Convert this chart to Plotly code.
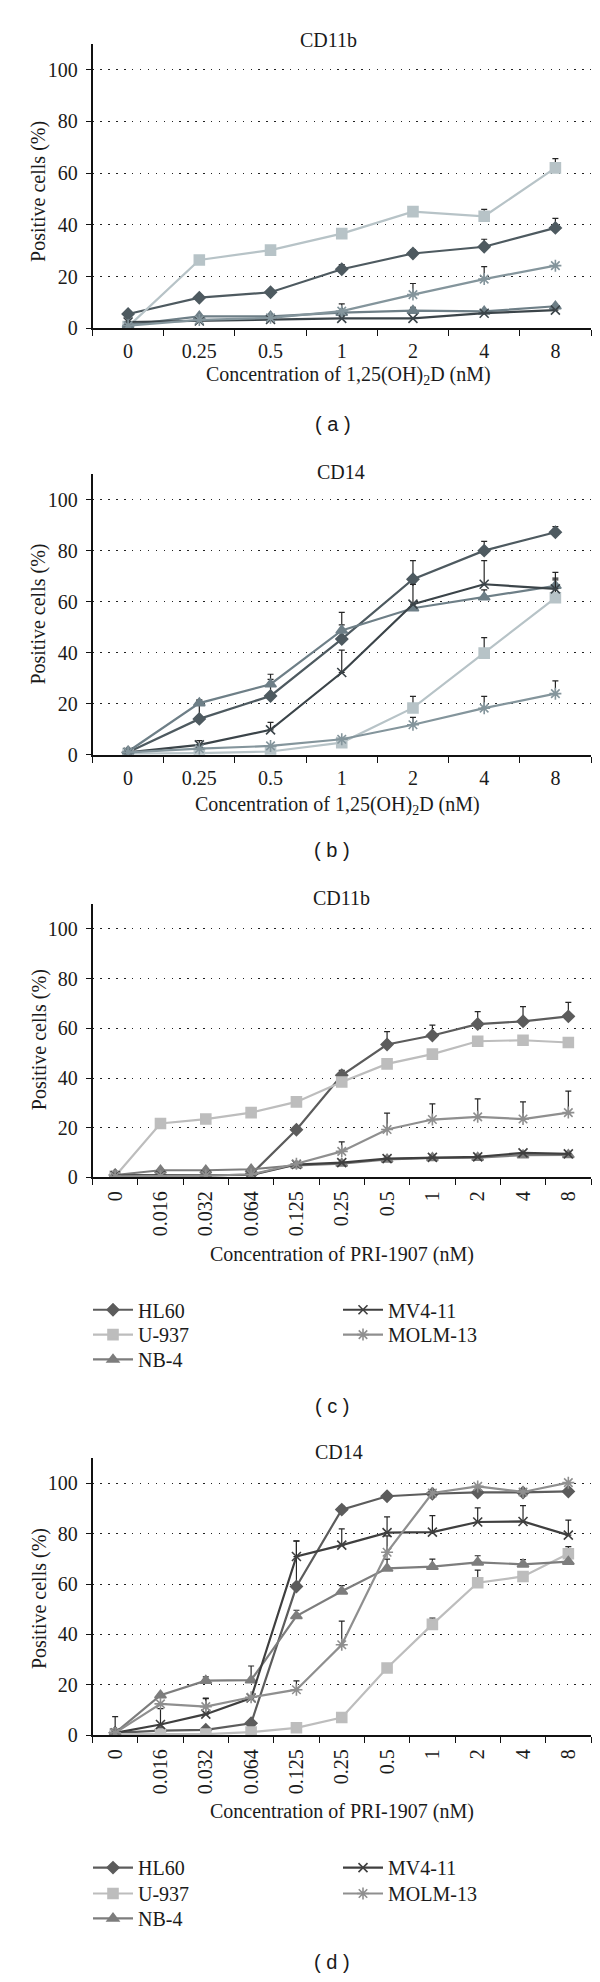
import plotly.graph_objects as go

# concentrations (category axes)
conc_vd = ["0", "0.25", "0.5", "1", "2", "4", "8"]
conc_pri = ["0", "0.016", "0.032", "0.064", "0.125", "0.25", "0.5", "1", "2", "4", "8"]

cell_lines = ["HL60", "U-937", "NB-4", "MV4-11", "MOLM-13"]

# (a) CD11b, 1,25(OH)2D
a_hl60 = [5.5, 11.8, 13.9, 22.8, 28.9, 31.5, 38.8]
a_hl60_err = [None, None, None, 1.8, 1.5, 2.9, 3.7]
a_u937 = [0.6, 26.4, 30.2, 36.6, 45.1, 43.3, 62.0]
a_u937_err = [None, None, None, None, None, 2.7, 3.6]
a_nb4 = [1.3, 4.6, 4.6, 6.0, 6.8, 6.5, 8.5]
a_nb4_err = [None, None, None, None, 1.3, None, None]
a_mv411 = [2.4, 2.8, 3.4, 3.8, 3.8, 5.8, 7.0]
a_mv411_err = [None] * 7
a_molm13 = [1.0, 3.2, 4.0, 6.6, 13.0, 19.0, 24.2]
a_molm13_err = [None, None, None, 2.8, 4.3, 4.8, None]

# (b) CD14, 1,25(OH)2D
b_hl60 = [1.0, 14.1, 23.1, 45.4, 68.9, 80.1, 87.3]
b_hl60_err = [None, 7.5, 6.5, 10.5, 7.3, 3.6, 2.2]
b_u937 = [0.5, 0.7, 1.3, 4.8, 18.4, 39.9, 61.6]
b_u937_err = [None, None, None, None, 4.5, 6.1, 7.0]
b_nb4 = [1.3, 20.3, 27.7, 48.8, 57.5, 61.8, 66.3]
b_nb4_err = [None, 1.0, 3.9, 2.2, None, 2.9, 3.0]
b_mv411 = [1.0, 3.9, 9.8, 32.3, 59.1, 66.9, 65.1]
b_mv411_err = [None, 1.7, 2.9, 8.8, 7.8, 9.3, 6.5]
b_molm13 = [1.0, 2.4, 3.5, 6.1, 11.8, 18.3, 24.0]
b_molm13_err = [None, None, None, None, 2.9, 4.6, 5.0]

# (c) CD11b, PRI-1907
c_hl60 = [1.0, 0.8, 0.8, 1.2, 19.2, 41.1, 53.5, 57.1, 61.7, 62.8, 64.8]
c_hl60_err = [None, None, None, None, None, 2.0, 5.2, 4.2, 5.0, 5.9, 5.6]
c_u937 = [0.5, 21.7, 23.5, 26.1, 30.4, 38.4, 45.7, 49.6, 54.8, 55.2, 54.3]
c_u937_err = [None] * 11
c_nb4 = [1.0, 2.9, 2.9, 3.3, 4.9, 5.6, 7.3, 7.9, 8.0, 9.0, 9.1]
c_nb4_err = [None, None, None, None, 1.5, None, None, None, None, None, None]
c_mv411 = [0.8, 0.8, 1.0, 1.0, 5.2, 6.0, 7.6, 8.1, 8.3, 9.9, 9.5]
c_mv411_err = [None] * 11
c_molm13 = [0.5, 0.5, 0.8, 1.2, 5.5, 10.5, 19.3, 23.3, 24.4, 23.5, 26.1]
c_molm13_err = [None, None, None, None, None, 3.8, 6.6, 6.3, 7.2, 6.9, 8.6]

# (d) CD14, PRI-1907
d_hl60 = [1.0, 1.9, 2.2, 4.8, 59.0, 89.5, 94.8, 95.8, 96.3, 96.3, 96.7]
d_hl60_err = [None, None, None, None, 18.0, 1.3, None, None, None, None, None]
d_u937 = [0.5, 0.5, 0.5, 1.3, 3.0, 7.1, 26.7, 44.0, 60.5, 63.0, 72.0]
d_u937_err = [None, None, None, None, None, None, None, 2.5, 5.0, None, 2.8]
d_nb4 = [1.0, 15.9, 21.7, 21.9, 47.3, 57.1, 66.2, 66.9, 68.6, 67.8, 68.9]
d_nb4_err = [None, None, 1.5, 5.6, 2.3, 2.3, 3.7, 3.0, 2.6, 1.9, None]
d_mv411 = [1.0, 4.3, 8.4, 14.8, 70.9, 75.4, 80.4, 80.6, 84.6, 84.8, 79.4]
d_mv411_err = [None, 6.3, 6.2, None, 6.2, 6.5, 6.2, 6.5, 5.6, 6.3, 5.9]
d_molm13 = [1.0, 12.5, 11.4, 15.1, 18.1, 35.9, 72.6, 96.1, 98.7, 96.5, 100.2]
d_molm13_err = [6.4, None, 3.4, None, 3.5, 9.4, 6.5, None, None, None, None]

colors_vd = ["#4e5a60", "#b7c3c7", "#6e7f87", "#3b4449", "#84959c"]
colors_pri = ["#5c5c5c", "#bdbdbd", "#7d7d7d", "#3f3f3f", "#8f8f8f"]
symbols = ["diamond", "square", "triangle-up", "x-thin-open", "asterisk-open"]
sizes = [9, 10, 10, 9, 10]

W, H = 600, 1982
SERIF = "Liberation Serif, Times New Roman, Times, serif"


def px_x(v):
    return v / W


def px_y(v):
    return 1 - v / H


# legend entry spots (px): column x, row y for panels (c) and (d)
leg_cols = [80, 80, 80, 330, 330]
leg_rows_c = [1309, 1334, 1359, 1309, 1334]
leg_rows_d = [1870, 1896, 1921, 1870, 1896]

panels = [
    # values, errors, categories, colors, top px, bottom px, legend rows
    ([a_hl60, a_u937, a_nb4, a_mv411, a_molm13],
     [a_hl60_err, a_u937_err, a_nb4_err, a_mv411_err, a_molm13_err],
     conc_vd, colors_vd, 36, 322, None),
    ([b_hl60, b_u937, b_nb4, b_mv411, b_molm13],
     [b_hl60_err, b_u937_err, b_nb4_err, b_mv411_err, b_molm13_err],
     conc_vd, colors_vd, 469, 751, None),
    ([c_hl60, c_u937, c_nb4, c_mv411, c_molm13],
     [c_hl60_err, c_u937_err, c_nb4_err, c_mv411_err, c_molm13_err],
     conc_pri, colors_pri, 901, 1176, leg_rows_c),
    ([d_hl60, d_u937, d_nb4, d_mv411, d_molm13],
     [d_hl60_err, d_u937_err, d_nb4_err, d_mv411_err, d_molm13_err],
     conc_pri, colors_pri, 1458, 1737, leg_rows_d),
]

fig = go.Figure()
axis_font = dict(family=SERIF, size=20, color="#1a1a1a")
legends = {}
leg_n = 0

for i, (vals, errs, cats, cols, top, bot, rows) in enumerate(panels, start=1):
    xa = "x" if i == 1 else f"x{i}"
    ya = "y" if i == 1 else f"y{i}"
    for k, name in enumerate(cell_lines):
        tr = dict(
            x=cats, y=vals[k], name=name, mode="lines+markers",
            xaxis=xa, yaxis=ya,
            line=dict(color=cols[k], width=2.2),
            marker=dict(symbol=symbols[k], size=sizes[k], color=cols[k],
                        line=dict(color=cols[k], width=1.6)),
            error_y=dict(type="data", array=errs[k], arrayminus=[0] * len(cats),
                         symmetric=False, color="#262626", thickness=1.2, width=3),
        )
        if rows is None:
            tr["showlegend"] = False
        else:
            leg_n += 1
            key = "legend" if leg_n == 1 else f"legend{leg_n}"
            tr["legend"] = key
            legends[key] = dict(
                x=px_x(leg_cols[k]), y=px_y(rows[k]), xanchor="left", yanchor="middle",
                bgcolor="rgba(0,0,0,0)", borderwidth=0, itemwidth=40,
                font=dict(family=SERIF, size=20, color="#1a1a1a"),
            )
        fig.add_trace(go.Scatter(**tr))

    dom_y = [px_y(bot), px_y(top)]
    xkey = "xaxis" if i == 1 else f"xaxis{i}"
    ykey = "yaxis" if i == 1 else f"yaxis{i}"
    fig.layout[xkey] = dict(
        domain=[px_x(84.5), px_x(583)], anchor=ya, type="category",
        categoryorder="array", categoryarray=cats, range=[-0.5, len(cats) - 0.5],
        showline=True, linecolor="#111", linewidth=1.6, ticks="outside",
        tickson="boundaries", ticklen=6, tickwidth=1.3, tickcolor="#111",
        showgrid=False, tickfont=axis_font, ticklabelstandoff=4,
        tickangle=-90 if len(cats) > 7 else 0,
    )
    fig.layout[ykey] = dict(
        domain=dom_y, anchor=xa, range=[0, 110], tickvals=[0, 20, 40, 60, 80, 100],
        showline=True, linecolor="#111", linewidth=1.6, ticks="outside",
        ticklen=5, tickwidth=1.3, tickcolor="#111", showgrid=True,
        gridcolor="#222", gridwidth=1.4, griddash="1.4px,6.5px", zeroline=False,
        tickfont=axis_font, ticklabelstandoff=4,
    )

annotations = []


def label(text, x, y, font=axis_font, angle=0):
    annotations.append(dict(text=text, x=px_x(x), y=px_y(y), xref="paper", yref="paper",
                            showarrow=False, xanchor="center", yanchor="middle",
                            font=font, textangle=angle))


vd_title = "Concentration of 1,25(OH)<sub>2</sub>D (nM)"
pri_title = "Concentration of PRI-1907 (nM)"
sans = dict(family="Liberation Sans, Arial, sans-serif", size=20, color="#1a1a1a")

label("CD11b", 320, 32)
label("CD14", 333, 467)
label("CD11b", 333, 895)
label("CD14", 331, 1452)
label(vd_title, 340, 370)
label(vd_title, 329, 802)
label(pri_title, 334, 1253)
label(pri_title, 334, 1814)
for yc in [185, 610, 1038, 1600]:
    label("Positive cells (%)", 31, yc, angle=-90)
label("( a )", 325, 418, font=sans)
label("( b )", 324, 847, font=sans)
label("( c )", 324, 1406, font=sans)
label("( d )", 324, 1965, font=sans)

fig.update_layout(
    width=W, height=H, margin=dict(l=0, r=0, t=0, b=0),
    plot_bgcolor="white", paper_bgcolor="white",
    font=axis_font, annotations=annotations, **legends,
)

fig.write_html("out.html")
